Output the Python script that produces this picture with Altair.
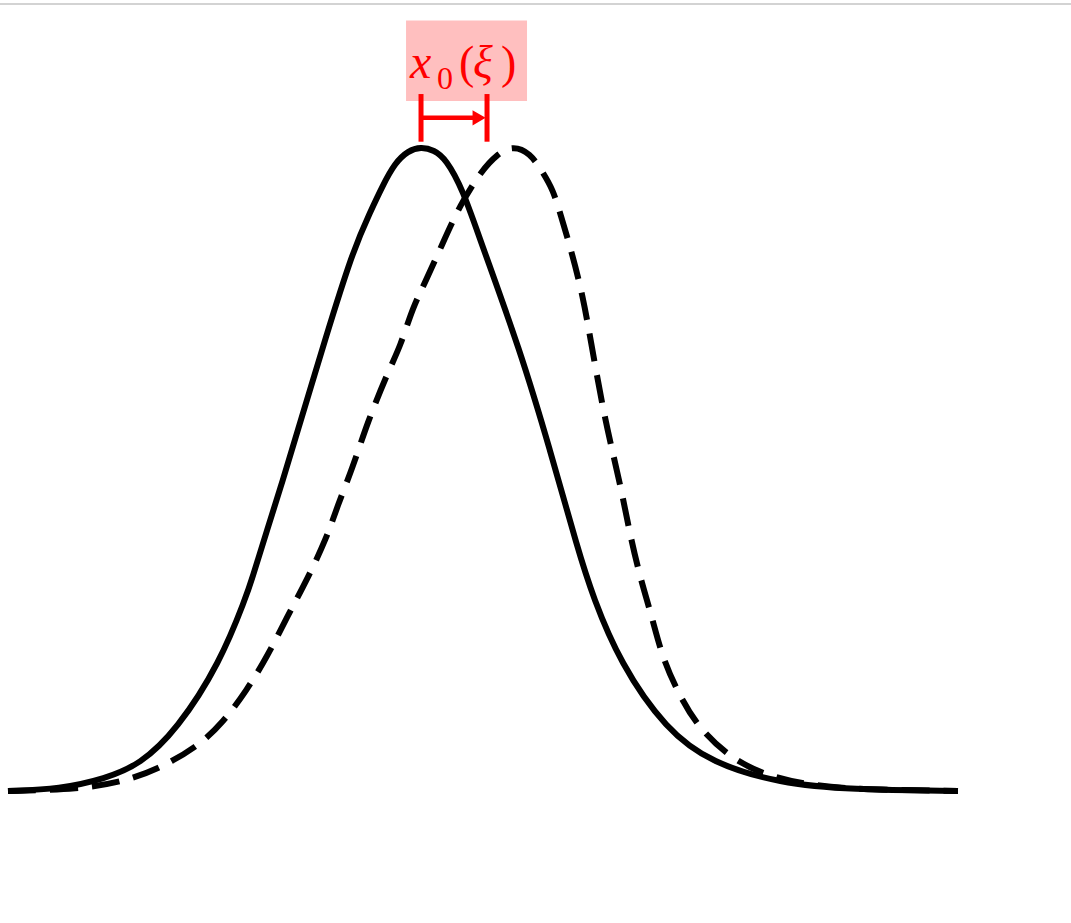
import altair as alt
import pandas as pd

# Reference profile (solid) and shifted/skewed profile (dashed)
solid_x = [-6.258, -5.470, -4.788, -4.258, -3.697, -3.045, -2.652, -2.561, -2.333, -2.091,
           -1.864, -1.636, -1.500, -1.030, -0.773, -0.576, -0.394, -0.197, 0.0, 0.197,
           0.379, 0.636, 0.894, 1.500, 1.955, 2.379, 2.606, 3.015, 3.712, 4.409,
           5.439, 6.500, 8.136]
solid_y = [0.0, 0.003, 0.019, 0.041, 0.095, 0.199, 0.301, 0.329, 0.405, 0.483,
           0.561, 0.638, 0.685, 0.840, 0.898, 0.941, 0.975, 0.994, 1.0, 0.995,
           0.981, 0.933, 0.856, 0.685, 0.530, 0.374, 0.301, 0.199, 0.095, 0.043,
           0.012, 0.002, 0.0]

dashed_x = [-6.258, -5.167, -4.530, -4.000, -3.394, -3.000, -2.636, -2.333, -2.030, -1.727,
            -1.424, -1.273, -1.030, -0.818, -0.470, -0.318, -0.121, 0.061, 0.318, 0.591,
            0.924, 1.152, 1.379, 1.652, 1.848, 2.000, 2.106, 2.288, 2.455, 2.561,
            2.758, 2.894, 3.045, 3.167, 3.318, 3.500, 3.652, 3.924, 4.227, 4.727,
            5.288, 5.894, 6.652, 8.136]
dashed_y = [0.0, 0.003, 0.014, 0.033, 0.068, 0.106, 0.157, 0.208, 0.270, 0.328,
            0.394, 0.441, 0.503, 0.571, 0.658, 0.689, 0.752, 0.789, 0.848, 0.910,
            0.964, 0.988, 1.002, 0.991, 0.960, 0.933, 0.898, 0.835, 0.767, 0.705,
            0.592, 0.530, 0.463, 0.398, 0.332, 0.270, 0.208, 0.146, 0.095, 0.048,
            0.022, 0.009, 0.002, 0.0]

# Shift x0(xi) between the two profiles
shift_start = 0.0
shift_end = 1.0

W, H = 1071, 923
xs = alt.Scale(domain=[-6.379, 9.848], range=[0, W])
ys = alt.Scale(domain=[-0.205, 1.228], range=[H, 0])

solid = pd.DataFrame({"x": solid_x, "y": solid_y})
dashed = pd.DataFrame({"x": dashed_x, "y": dashed_y})

X = lambda f="x": alt.X(f"{f}:Q", scale=xs, axis=None)
Y = lambda f="y": alt.Y(f"{f}:Q", scale=ys, axis=None)

top_line = alt.Chart(pd.DataFrame({"a": [0]})).mark_rule(
    color="#c4c4c4", strokeWidth=1.5
).encode(x=alt.value(0), x2=alt.value(W), y=alt.value(4))

dashed_line = alt.Chart(dashed).mark_line(
    color="black", strokeWidth=6, strokeDash=[28, 14], strokeCap="butt",
    interpolate="basis"
).encode(x=X(), y=Y())

solid_line = alt.Chart(solid).mark_line(
    color="black", strokeWidth=6, strokeCap="butt", interpolate="basis"
).encode(x=X(), y=Y())

label_box = alt.Chart(pd.DataFrame({"x": [-0.227], "x2": [1.606],
                                    "y": [1.071], "y2": [1.196]})).mark_rect(
    color="#ffbfbf"
).encode(x=X(), x2="x2:Q", y=Y(), y2="y2:Q")

ticks = alt.Chart(pd.DataFrame({"x": [shift_start, shift_end],
                                "y": [1.008, 1.008], "y2": [1.082, 1.082]})).mark_rule(
    color="red", strokeWidth=5
).encode(x=X(), y=Y(), y2="y2:Q")

arrow_shaft = alt.Chart(pd.DataFrame({"x": [shift_start], "x2": [shift_end - 0.15],
                                      "y": [1.045]})).mark_rule(
    color="red", strokeWidth=4.5
).encode(x=X(), x2="x2:Q", y=Y())

arrow_head = alt.Chart(pd.DataFrame({"x": [shift_end - 0.12], "y": [1.045]})).mark_point(
    shape="triangle-right", filled=True, color="red", opacity=1, size=230
).encode(x=X(), y=Y())

# Label "x0(ξ)" assembled from pieces
label = pd.DataFrame({
    "x": [-0.167, 0.242, 0.576, 0.788, 1.212],
    "y": [1.107, 1.090, 1.107, 1.107, 1.107],
    "t": ["x", "0", "(", "ξ", ")"],
    "size": [48, 32, 46, 46, 46],
    "style": ["italic", "normal", "normal", "italic", "normal"],
})

def label_part(i):
    row = label.iloc[[i]]
    return alt.Chart(row).mark_text(
        color="red", font="Liberation Serif", fontSize=int(row["size"].iloc[0]),
        fontStyle=row["style"].iloc[0], align="left", baseline="alphabetic"
    ).encode(x=X(), y=Y(), text="t:N")

chart = alt.layer(
    top_line, dashed_line, solid_line, label_box, ticks, arrow_shaft, arrow_head,
    *[label_part(i) for i in range(len(label))]
).properties(
    width=W, height=H, autosize=alt.AutoSizeParams(type="none"), padding=0
).configure_view(stroke=None)

chart.save("out.html", embed_options={"renderer": "svg", "actions": False})
